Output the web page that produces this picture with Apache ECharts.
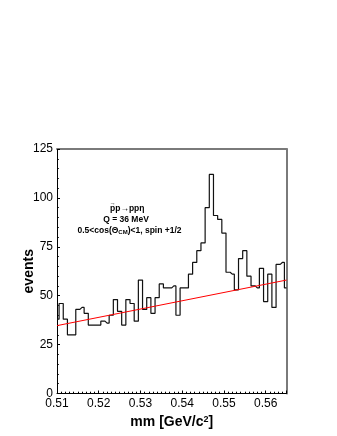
<!DOCTYPE html>
<html>
<head>
<meta charset="utf-8">
<script src="https://cdn.jsdelivr.net/npm/echarts@6/dist/echarts.min.js"></script>
<style>
html,body{margin:0;padding:0;background:#fff;}
#chart{width:337px;height:436px;}
</style>
</head>
<body>
<div id="chart"></div>
<script>
// bin centres (GeV/c^2), bin width 0.001
const binCenters = [
  0.510,0.511,0.512,0.513,0.514,0.515,0.516,0.517,0.518,0.519,
  0.520,0.521,0.522,0.523,0.524,0.525,0.526,0.527,0.528,0.529,
  0.530,0.531,0.532,0.533,0.534,0.535,0.536,0.537,0.538,0.539,
  0.540,0.541,0.542,0.543,0.544,0.545,0.546,0.547,0.548,0.549,
  0.550,0.551,0.552,0.553,0.554,0.555,0.556,0.557,0.558,0.559,
  0.560,0.561,0.562,0.563,0.564,0.565
];
// events per bin
const events = [
  38,46,38,30,30,43,44,41,35,35,
  35,37,36,40,48,42,35,48,46,37,
  58,43,49,41,49,56,54,54,55,40,
  54,54,61,67,73,77,95,112,91,89,
  82,62,61,53,69,73,60,55,54,64,
  47,61,44,66,67,54
];
// linear background fit (end points)
const fitX = [0.510, 0.565];
const fitY = [34.7, 58.0];

const xTickLabels = ['0.51','0.52','0.53','0.54','0.55','0.56'];
const yTicks = [0,25,50,75,100,125];

const histData = binCenters.map((x,i)=>[x, events[i]]);
const fitData = fitX.map((x,i)=>[x, fitY[i]]);

const chart = echarts.init(document.getElementById('chart'), null, {renderer:'canvas'});
const font = 'Liberation Sans, Arial, Helvetica, sans-serif';

chart.setOption({
  backgroundColor:'#ffffff',
  animation:false,
  grid:{left:57, right:50.5, top:149, bottom:42.5, containLabel:false},
  xAxis:[
    {
      type:'value', min:0.51, max:0.565, interval:0.01,
      position:'bottom',
      axisLine:{onZero:false, lineStyle:{color:'#000', width:1}},
      axisTick:{inside:true, length:3, lineStyle:{color:'#000'}},
      axisLabel:{
        margin:4, color:'#000', fontSize:12, fontFamily:font,
        formatter:function(v){
          const idx = Math.round((v-0.51)/0.01);
          if (Math.abs(v-(0.51+idx*0.01))>1e-6) return '';
          return xTickLabels[idx] || '';
        }
      },
      splitLine:{show:false},
      name:'mm [GeV/c{sup|2}]',
      nameLocation:'middle', nameGap:21.5, nameMoveOverlap:false,
      nameTextStyle:{
        color:'#000', fontSize:14, fontWeight:'bold', fontFamily:font,
        rich:{sup:{fontSize:9, fontWeight:'bold', fontFamily:font, verticalAlign:'top', color:'#000'}}
      }
    },
    {
      type:'value', min:0.51, max:0.565, interval:0.001,
      position:'bottom', offset:0,
      axisLine:{show:false, onZero:false},
      axisTick:{inside:true, length:1.8, lineStyle:{color:'#000'}},
      axisLabel:{show:false},
      splitLine:{show:false}
    },
    {
      type:'value', min:0.51, max:0.565,
      position:'top',
      axisLine:{onZero:false, lineStyle:{color:'#7a7a7a', width:2}},
      axisTick:{show:false}, axisLabel:{show:false}, splitLine:{show:false}
    }
  ],
  yAxis:[
    {
      type:'value', min:yTicks[0], max:yTicks[yTicks.length-1], interval:25,
      position:'left',
      axisLine:{onZero:false, lineStyle:{color:'#000', width:1}},
      axisTick:{inside:true, length:3, lineStyle:{color:'#000'}},
      minorTick:{show:true, splitNumber:5, length:1.8, lineStyle:{color:'#000'}},
      axisLabel:{margin:4, color:'#000', fontSize:12, fontFamily:font},
      splitLine:{show:false},
      name:'events', nameLocation:'middle', nameGap:20.5, nameRotate:90, nameMoveOverlap:false,
      nameTextStyle:{color:'#000', fontSize:14, fontWeight:'bold', fontFamily:font}
    },
    {
      type:'value', min:0, max:125,
      position:'right',
      axisLine:{onZero:false, lineStyle:{color:'#7a7a7a', width:2}},
      axisTick:{show:false}, axisLabel:{show:false}, splitLine:{show:false}
    }
  ],
  series:[
    {
      type:'line', step:'middle', xAxisIndex:0, yAxisIndex:0,
      data:histData, showSymbol:false, symbol:'none',
      lineStyle:{color:'#111', width:1.2},
      z:3
    },
    {
      type:'line', xAxisIndex:0, yAxisIndex:0,
      data:fitData, showSymbol:false, symbol:'none',
      lineStyle:{color:'#ff0000', width:1},
      z:4
    }
  ],
  graphic:[
    {
      type:'text', x:110, y:209,
      style:{text:'pp\u2192pp\u03b7', font:'bold 8.5px '+font, fill:'#000', textAlign:'left', textVerticalAlign:'middle'}
    },
    {
      type:'text', x:112.8, y:203.5,
      style:{text:'\u2192', font:'bold 6px '+font, fill:'#000', textAlign:'center', textVerticalAlign:'middle'}
    },
    {
      type:'text', x:126, y:219.5,
      style:{text:'Q = 36 MeV', font:'bold 8.5px '+font, fill:'#000', textAlign:'center', textVerticalAlign:'middle'}
    },
    {
      type:'text', x:129.5, y:231,
      style:{
        text:'0.5<cos(\u0398{sub|CM})<1, spin +1/2',
        font:'bold 8.5px '+font, fill:'#000', textAlign:'center', textVerticalAlign:'middle',
        rich:{sub:{fontSize:6, fontWeight:'bold', fontFamily:font, verticalAlign:'bottom', fill:'#000'}}
      }
    }
  ]
});
</script>
</body>
</html>
